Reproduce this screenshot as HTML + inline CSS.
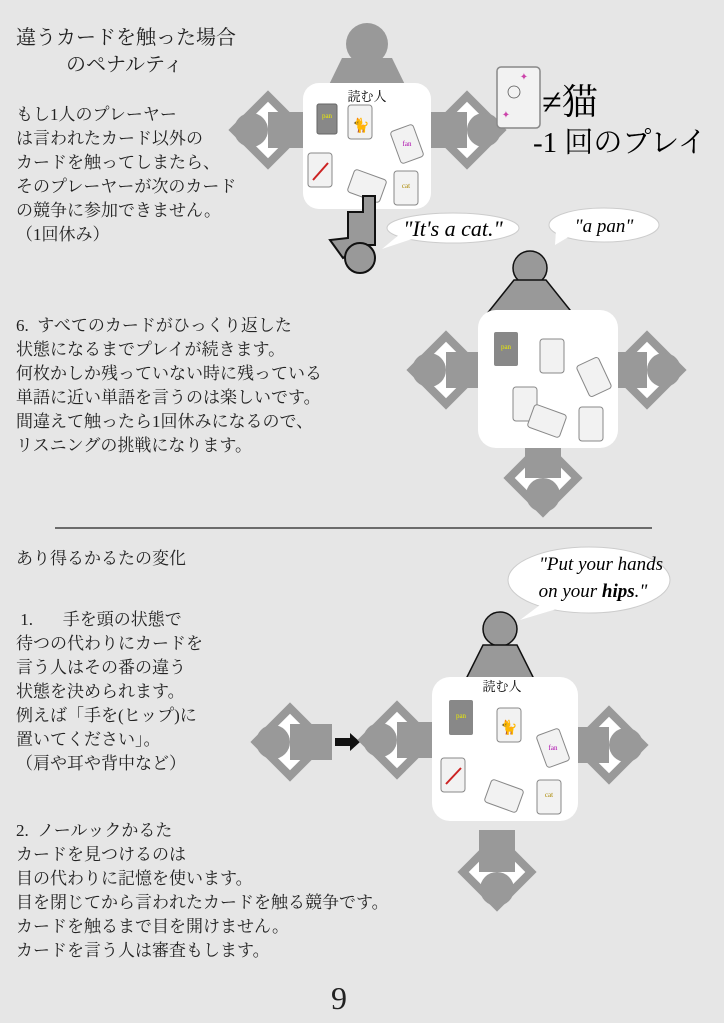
<!DOCTYPE html>
<html><head><meta charset="utf-8"><style>
body{margin:0;background:#e6e6e6;}
#pg{position:relative;width:724px;height:1023px;overflow:hidden;background:#e6e6e6;font-family:"Liberation Serif","Noto Serif CJK JP","Noto Serif CJK SC",serif;color:#222;}
.t{position:absolute;white-space:nowrap;font-size:17px;line-height:24px;}
svg{position:absolute;left:0;top:0;}
svg text{font-family:"Liberation Serif","Noto Serif CJK JP","Noto Serif CJK SC",serif;}
</style></head><body><div id="pg">
<svg width="724" height="1023" viewBox="0 0 724 1023">
<defs>
<g id="side">
 <rect x="-28" y="-28" width="56" height="56" transform="rotate(45)" fill="#999"/>
 <rect x="-20" y="-20" width="40" height="40" transform="rotate(45)" fill="#fff"/>
 <circle cx="-17" cy="0" r="17" fill="#999"/>
 <rect x="0" y="-18" width="42" height="36" fill="#999"/>
</g>
<g id="card"><rect x="-12" y="-17" width="24" height="34" rx="3" fill="#f2f2f2" stroke="#888" stroke-width="1"/></g>
</defs>
<!-- table 1 -->
<circle cx="367" cy="44" r="21" fill="#999"/>
<polygon points="342,58 392,58 410,95 324,95" fill="#999"/>
<use href="#side" x="268" y="130"/>
<use href="#side" transform="translate(467,130) rotate(180)"/>
<rect x="303" y="83" width="128" height="126" rx="16" fill="#fff"/>
<text x="367" y="101" font-size="13" text-anchor="middle">読む人</text>
<rect x="317" y="104" width="20" height="30" rx="2" fill="#888" stroke="#666"/>
<text x="327" y="118" font-size="7" fill="#ee0" text-anchor="middle" font-family="Liberation Sans,sans-serif">pan</text>
<use href="#card" x="360" y="122"/><text x="361" y="130" font-size="14" text-anchor="middle">🐈</text>
<use href="#card" transform="translate(407,144) rotate(-20)"/><text x="407" y="146" font-size="7" fill="#a0a" text-anchor="middle" font-family="Liberation Sans,sans-serif">fan</text>
<use href="#card" x="320" y="170"/><line x1="313" y1="180" x2="328" y2="163" stroke="#c22" stroke-width="2"/>
<use href="#card" transform="translate(367,186) rotate(-70)"/>
<use href="#card" x="406" y="188"/><text x="406" y="188" font-size="7" fill="#a80" text-anchor="middle" font-family="Liberation Sans,sans-serif">cat</text>
<!-- reaching person -->
<path d="M348,212 L348,238 L330,240 L343,258 L358,248 L358,245 L375,245 L375,196 L363,196 L363,212 Z" fill="#999" stroke="#111" stroke-width="2"/>
<circle cx="360" cy="258" r="15" fill="#999" stroke="#111" stroke-width="2"/>
<!-- bubbles -->
<ellipse cx="453" cy="228" rx="66" ry="15" fill="#fff" stroke="#ccc"/>
<polygon points="400,234 382,249 412,239" fill="#fff"/>
<text x="453" y="236" font-size="22" font-style="italic" text-anchor="middle">"It's a cat."</text>
<ellipse cx="604" cy="225" rx="55" ry="17" fill="#fff" stroke="#ccc"/>
<polygon points="556,230 555,245 570,236" fill="#fff"/>
<text x="604" y="232" font-size="19" font-style="italic" text-anchor="middle">"a pan"</text>
<!-- big card -->
<rect x="497" y="67" width="43" height="61" rx="4" fill="#f2f2f2" stroke="#888" stroke-width="1.5"/>
<circle cx="514" cy="92" r="6" fill="none" stroke="#555" stroke-width="0.8"/>
<text x="524" y="80" font-size="10" fill="#c4a" text-anchor="middle">✦</text>
<text x="506" y="118" font-size="10" fill="#c4a" text-anchor="middle">✦</text>
<text x="542" y="114" font-size="36">≠猫</text>
<text x="533" y="152" font-size="29">-1 回のプレイ</text>
<!-- table 2 -->
<circle cx="530" cy="268" r="17" fill="#999" stroke="#111" stroke-width="1.5"/>
<polygon points="514,280 546,280 578,320 482,320" fill="#999" stroke="#111" stroke-width="1.5"/>
<use href="#side" x="446" y="370"/>
<use href="#side" transform="translate(647,370) rotate(180)"/>
<use href="#side" transform="translate(543,478) rotate(-90)"/>
<rect x="478" y="310" width="140" height="138" rx="18" fill="#fff"/>
<rect x="494" y="332" width="24" height="34" rx="2" fill="#888"/>
<text x="506" y="349" font-size="7" fill="#ee0" text-anchor="middle" font-family="Liberation Sans,sans-serif">pan</text>
<use href="#card" x="552" y="356"/>
<use href="#card" transform="translate(594,377) rotate(-25)"/>
<use href="#card" x="525" y="404"/>
<use href="#card" transform="translate(547,421) rotate(-70)"/>
<use href="#card" x="591" y="424"/>
<!-- divider -->
<line x1="55" y1="528" x2="652" y2="528" stroke="#222" stroke-width="1.2"/>
<!-- table 3 -->
<ellipse cx="589" cy="580" rx="81" ry="33" fill="#fff" stroke="#ccc"/>
<polygon points="540,605 520,620 560,608" fill="#fff"/>
<text x="601" y="570" font-size="19" font-style="italic" text-anchor="middle">"Put your hands</text>
<text x="593" y="597" font-size="19" font-style="italic" text-anchor="middle">on your <tspan font-weight="bold">hips</tspan>."</text>
<circle cx="500" cy="629" r="17" fill="#999" stroke="#111" stroke-width="1.5"/>
<polygon points="483,645 517,645 537,685 463,685" fill="#999" stroke="#111" stroke-width="1.5"/>
<use href="#side" x="290" y="742"/>
<polygon points="335,738 350,738 350,733 360,742 350,751 350,746 335,746" fill="#111"/>
<use href="#side" x="397" y="740"/>
<use href="#side" transform="translate(609,745) rotate(180)"/>
<use href="#side" transform="translate(497,872) rotate(-90)"/>
<rect x="432" y="677" width="146" height="144" rx="18" fill="#fff"/>
<text x="502" y="691" font-size="13" text-anchor="middle">読む人</text>
<rect x="449" y="700" width="24" height="35" rx="2" fill="#888"/>
<text x="461" y="718" font-size="7" fill="#ee0" text-anchor="middle" font-family="Liberation Sans,sans-serif">pan</text>
<use href="#card" x="509" y="725"/><text x="509" y="732" font-size="14" text-anchor="middle">🐈</text>
<use href="#card" transform="translate(553,748) rotate(-20)"/><text x="553" y="750" font-size="7" fill="#a0a" text-anchor="middle" font-family="Liberation Sans,sans-serif">fan</text>
<use href="#card" x="453" y="775"/><line x1="446" y1="784" x2="461" y2="768" stroke="#c22" stroke-width="2"/>
<use href="#card" transform="translate(504,796) rotate(-70)"/>
<use href="#card" x="549" y="797"/><text x="549" y="797" font-size="7" fill="#a80" text-anchor="middle" font-family="Liberation Sans,sans-serif">cat</text>
</svg>
<div class="t" style="left:16px;top:26px;font-size:20px;">違うカードを触った場合</div>
<div class="t" style="left:66px;top:53px;font-size:20px;">のペナルティ</div>
<div class="t" style="left:16px;top:103px;">もし1人のプレーヤー<br>は言われたカード以外の<br>カードを触ってしまたら、<br>そのプレーヤーが次のカード<br>の競争に参加できません。<br>（1回休み）</div>
<div class="t" style="left:16px;top:314px;">6.&nbsp; すべてのカードがひっくり返した<br>状態になるまでプレイが続きます。<br>何枚かしか残っていない時に残っている<br>単語に近い単語を言うのは楽しいです。<br>間違えて触ったら1回休みになるので、<br>リスニングの挑戦になります。</div>
<div class="t" style="left:16px;top:547px;">あり得るかるたの変化</div>
<div class="t" style="left:16px;top:608px;">&nbsp;1.&nbsp;&nbsp;&nbsp;&nbsp;&nbsp;&nbsp; 手を頭の状態で<br>待つの代わりにカードを<br>言う人はその番の違う<br>状態を決められます。<br>例えば「手を(ヒップ)に<br>置いてください」。<br>（肩や耳や背中など）</div>
<div class="t" style="left:16px;top:819px;">2.&nbsp; ノールックかるた<br>カードを見つけるのは<br>目の代わりに記憶を使います。<br>目を閉じてから言われたカードを触る競争です。<br>カードを触るまで目を開けません。<br>カードを言う人は審査もします。</div>
<div class="t" style="left:331px;top:980px;font-size:32px;line-height:36px;">9</div>
</div></body></html>
